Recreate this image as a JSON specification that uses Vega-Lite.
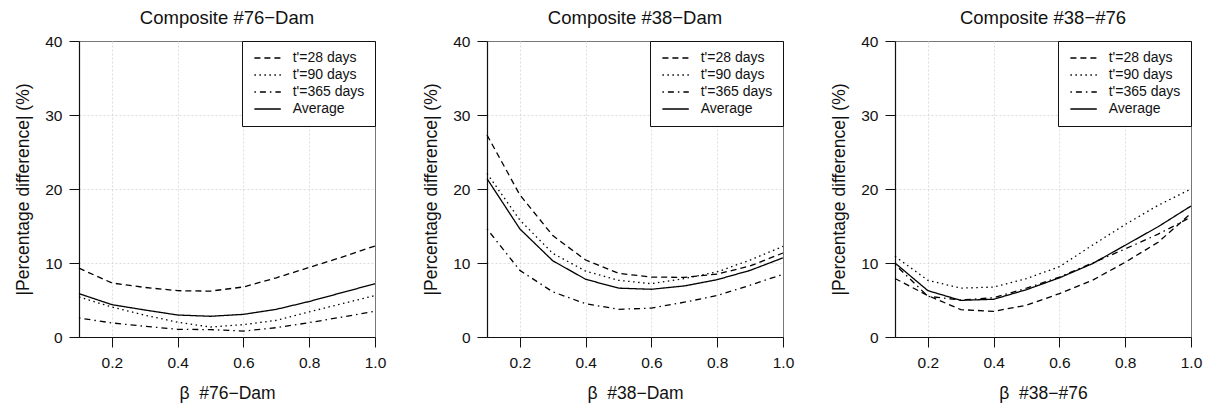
{
  "$schema": "https://vega.github.io/schema/vega-lite/v6.json",
  "padding": {"left": 14, "top": 8, "right": 5, "bottom": 5},
  "background": "white",
  "datasets": {
    "d": [
      {"panel": "76", "beta": 0.1, "series": "t'=28 days", "value": 9.3},
      {"panel": "76", "beta": 0.2, "series": "t'=28 days", "value": 7.3},
      {"panel": "76", "beta": 0.3, "series": "t'=28 days", "value": 6.7},
      {"panel": "76", "beta": 0.4, "series": "t'=28 days", "value": 6.26},
      {"panel": "76", "beta": 0.5, "series": "t'=28 days", "value": 6.2},
      {"panel": "76", "beta": 0.6, "series": "t'=28 days", "value": 6.76},
      {"panel": "76", "beta": 0.7, "series": "t'=28 days", "value": 8.0},
      {"panel": "76", "beta": 0.8, "series": "t'=28 days", "value": 9.4},
      {"panel": "76", "beta": 0.9, "series": "t'=28 days", "value": 10.8},
      {"panel": "76", "beta": 1.0, "series": "t'=28 days", "value": 12.3},
      {"panel": "76", "beta": 0.1, "series": "t'=90 days", "value": 5.4},
      {"panel": "76", "beta": 0.2, "series": "t'=90 days", "value": 4.05},
      {"panel": "76", "beta": 0.3, "series": "t'=90 days", "value": 2.95},
      {"panel": "76", "beta": 0.4, "series": "t'=90 days", "value": 2.0},
      {"panel": "76", "beta": 0.5, "series": "t'=90 days", "value": 1.35},
      {"panel": "76", "beta": 0.6, "series": "t'=90 days", "value": 1.67},
      {"panel": "76", "beta": 0.7, "series": "t'=90 days", "value": 2.25},
      {"panel": "76", "beta": 0.8, "series": "t'=90 days", "value": 3.4},
      {"panel": "76", "beta": 0.9, "series": "t'=90 days", "value": 4.5},
      {"panel": "76", "beta": 1.0, "series": "t'=90 days", "value": 5.6},
      {"panel": "76", "beta": 0.1, "series": "t'=365 days", "value": 2.57},
      {"panel": "76", "beta": 0.2, "series": "t'=365 days", "value": 1.9},
      {"panel": "76", "beta": 0.3, "series": "t'=365 days", "value": 1.45},
      {"panel": "76", "beta": 0.4, "series": "t'=365 days", "value": 1.04},
      {"panel": "76", "beta": 0.5, "series": "t'=365 days", "value": 1.0},
      {"panel": "76", "beta": 0.6, "series": "t'=365 days", "value": 0.8},
      {"panel": "76", "beta": 0.7, "series": "t'=365 days", "value": 1.26},
      {"panel": "76", "beta": 0.8, "series": "t'=365 days", "value": 1.94},
      {"panel": "76", "beta": 0.9, "series": "t'=365 days", "value": 2.7},
      {"panel": "76", "beta": 1.0, "series": "t'=365 days", "value": 3.47},
      {"panel": "76", "beta": 0.1, "series": "Average", "value": 5.86},
      {"panel": "76", "beta": 0.2, "series": "Average", "value": 4.37},
      {"panel": "76", "beta": 0.3, "series": "Average", "value": 3.65},
      {"panel": "76", "beta": 0.4, "series": "Average", "value": 2.97},
      {"panel": "76", "beta": 0.5, "series": "Average", "value": 2.8},
      {"panel": "76", "beta": 0.6, "series": "Average", "value": 3.06},
      {"panel": "76", "beta": 0.7, "series": "Average", "value": 3.74},
      {"panel": "76", "beta": 0.8, "series": "Average", "value": 4.8},
      {"panel": "76", "beta": 0.9, "series": "Average", "value": 6.0},
      {"panel": "76", "beta": 1.0, "series": "Average", "value": 7.2},

      {"panel": "38", "beta": 0.1, "series": "t'=28 days", "value": 27.3},
      {"panel": "38", "beta": 0.2, "series": "t'=28 days", "value": 19.2},
      {"panel": "38", "beta": 0.3, "series": "t'=28 days", "value": 13.7},
      {"panel": "38", "beta": 0.4, "series": "t'=28 days", "value": 10.4},
      {"panel": "38", "beta": 0.5, "series": "t'=28 days", "value": 8.6},
      {"panel": "38", "beta": 0.6, "series": "t'=28 days", "value": 8.1},
      {"panel": "38", "beta": 0.7, "series": "t'=28 days", "value": 8.06},
      {"panel": "38", "beta": 0.8, "series": "t'=28 days", "value": 8.5},
      {"panel": "38", "beta": 0.9, "series": "t'=28 days", "value": 9.6},
      {"panel": "38", "beta": 1.0, "series": "t'=28 days", "value": 11.35},
      {"panel": "38", "beta": 0.1, "series": "t'=90 days", "value": 22.1},
      {"panel": "38", "beta": 0.2, "series": "t'=90 days", "value": 15.8},
      {"panel": "38", "beta": 0.3, "series": "t'=90 days", "value": 11.3},
      {"panel": "38", "beta": 0.4, "series": "t'=90 days", "value": 8.9},
      {"panel": "38", "beta": 0.5, "series": "t'=90 days", "value": 7.66},
      {"panel": "38", "beta": 0.6, "series": "t'=90 days", "value": 7.2},
      {"panel": "38", "beta": 0.7, "series": "t'=90 days", "value": 7.9},
      {"panel": "38", "beta": 0.8, "series": "t'=90 days", "value": 8.8},
      {"panel": "38", "beta": 0.9, "series": "t'=90 days", "value": 10.4},
      {"panel": "38", "beta": 1.0, "series": "t'=90 days", "value": 12.25},
      {"panel": "38", "beta": 0.1, "series": "t'=365 days", "value": 14.6},
      {"panel": "38", "beta": 0.2, "series": "t'=365 days", "value": 9.0},
      {"panel": "38", "beta": 0.3, "series": "t'=365 days", "value": 6.1},
      {"panel": "38", "beta": 0.4, "series": "t'=365 days", "value": 4.5},
      {"panel": "38", "beta": 0.5, "series": "t'=365 days", "value": 3.74},
      {"panel": "38", "beta": 0.6, "series": "t'=365 days", "value": 3.9},
      {"panel": "38", "beta": 0.7, "series": "t'=365 days", "value": 4.7},
      {"panel": "38", "beta": 0.8, "series": "t'=365 days", "value": 5.6},
      {"panel": "38", "beta": 0.9, "series": "t'=365 days", "value": 7.0},
      {"panel": "38", "beta": 1.0, "series": "t'=365 days", "value": 8.47},
      {"panel": "38", "beta": 0.1, "series": "Average", "value": 21.4},
      {"panel": "38", "beta": 0.2, "series": "Average", "value": 14.6},
      {"panel": "38", "beta": 0.3, "series": "Average", "value": 10.3},
      {"panel": "38", "beta": 0.4, "series": "Average", "value": 7.8},
      {"panel": "38", "beta": 0.5, "series": "Average", "value": 6.6},
      {"panel": "38", "beta": 0.6, "series": "Average", "value": 6.45},
      {"panel": "38", "beta": 0.7, "series": "Average", "value": 6.9},
      {"panel": "38", "beta": 0.8, "series": "Average", "value": 7.75},
      {"panel": "38", "beta": 0.9, "series": "Average", "value": 9.0},
      {"panel": "38", "beta": 1.0, "series": "Average", "value": 10.7},

      {"panel": "3876", "beta": 0.1, "series": "t'=28 days", "value": 7.9},
      {"panel": "3876", "beta": 0.2, "series": "t'=28 days", "value": 5.6},
      {"panel": "3876", "beta": 0.3, "series": "t'=28 days", "value": 3.7},
      {"panel": "3876", "beta": 0.4, "series": "t'=28 days", "value": 3.47},
      {"panel": "3876", "beta": 0.5, "series": "t'=28 days", "value": 4.3},
      {"panel": "3876", "beta": 0.6, "series": "t'=28 days", "value": 5.86},
      {"panel": "3876", "beta": 0.7, "series": "t'=28 days", "value": 7.66},
      {"panel": "3876", "beta": 0.8, "series": "t'=28 days", "value": 10.1},
      {"panel": "3876", "beta": 0.9, "series": "t'=28 days", "value": 12.8},
      {"panel": "3876", "beta": 1.0, "series": "t'=28 days", "value": 16.7},
      {"panel": "3876", "beta": 0.1, "series": "t'=90 days", "value": 10.9},
      {"panel": "3876", "beta": 0.2, "series": "t'=90 days", "value": 7.66},
      {"panel": "3876", "beta": 0.3, "series": "t'=90 days", "value": 6.6},
      {"panel": "3876", "beta": 0.4, "series": "t'=90 days", "value": 6.75},
      {"panel": "3876", "beta": 0.5, "series": "t'=90 days", "value": 7.9},
      {"panel": "3876", "beta": 0.6, "series": "t'=90 days", "value": 9.5},
      {"panel": "3876", "beta": 0.7, "series": "t'=90 days", "value": 12.4},
      {"panel": "3876", "beta": 0.8, "series": "t'=90 days", "value": 15.2},
      {"panel": "3876", "beta": 0.9, "series": "t'=90 days", "value": 17.8},
      {"panel": "3876", "beta": 1.0, "series": "t'=90 days", "value": 20.0},
      {"panel": "3876", "beta": 0.1, "series": "t'=365 days", "value": 9.8},
      {"panel": "3876", "beta": 0.2, "series": "t'=365 days", "value": 5.5},
      {"panel": "3876", "beta": 0.3, "series": "t'=365 days", "value": 5.0},
      {"panel": "3876", "beta": 0.4, "series": "t'=365 days", "value": 5.3},
      {"panel": "3876", "beta": 0.5, "series": "t'=365 days", "value": 6.6},
      {"panel": "3876", "beta": 0.6, "series": "t'=365 days", "value": 8.1},
      {"panel": "3876", "beta": 0.7, "series": "t'=365 days", "value": 10.0},
      {"panel": "3876", "beta": 0.8, "series": "t'=365 days", "value": 11.9},
      {"panel": "3876", "beta": 0.9, "series": "t'=365 days", "value": 13.9},
      {"panel": "3876", "beta": 1.0, "series": "t'=365 days", "value": 16.2},
      {"panel": "3876", "beta": 0.1, "series": "Average", "value": 10.0},
      {"panel": "3876", "beta": 0.2, "series": "Average", "value": 6.26},
      {"panel": "3876", "beta": 0.3, "series": "Average", "value": 4.95},
      {"panel": "3876", "beta": 0.4, "series": "Average", "value": 5.1},
      {"panel": "3876", "beta": 0.5, "series": "Average", "value": 6.4},
      {"panel": "3876", "beta": 0.6, "series": "Average", "value": 8.0},
      {"panel": "3876", "beta": 0.7, "series": "Average", "value": 9.9},
      {"panel": "3876", "beta": 0.8, "series": "Average", "value": 12.4},
      {"panel": "3876", "beta": 0.9, "series": "Average", "value": 14.9},
      {"panel": "3876", "beta": 1.0, "series": "Average", "value": 17.7}
    ]
  },
  "hconcat": [
    {
      "data": {"name": "d"},
      "transform": [{"filter": "datum.panel === '76'"}],
      "title": "Composite #76−Dam",
      "width": 296, "height": 296,
      "mark": {"type": "line", "color": "black", "strokeWidth": 1.3},
      "encoding": {
        "x": {"field": "beta", "type": "quantitative", "title": "β\u00a0\u00a0#76−Dam",
              "scale": {"domain": [0.1, 1.0], "nice": false, "zero": false},
              "axis": {"values": [0.2, 0.4, 0.6, 0.8, 1.0], "format": ".1f"}},
        "y": {"field": "value", "type": "quantitative", "title": "|Percentage difference| (%)",
              "scale": {"domain": [0, 40], "nice": false},
              "axis": {"values": [0, 10, 20, 30, 40]}},
        "strokeDash": {"field": "series", "type": "nominal",
              "scale": {"domain": ["t'=28 days", "t'=90 days", "t'=365 days", "Average"],
                        "range": [[6, 4], [1.5, 3.5], [1.5, 4, 6, 4], [1, 0]]},
              "legend": {"title": null}}
      }
    },
    {
      "data": {"name": "d"},
      "transform": [{"filter": "datum.panel === '38'"}],
      "title": "Composite #38−Dam",
      "width": 296, "height": 296,
      "mark": {"type": "line", "color": "black", "strokeWidth": 1.3},
      "encoding": {
        "x": {"field": "beta", "type": "quantitative", "title": "β\u00a0\u00a0#38−Dam",
              "scale": {"domain": [0.1, 1.0], "nice": false, "zero": false},
              "axis": {"values": [0.2, 0.4, 0.6, 0.8, 1.0], "format": ".1f"}},
        "y": {"field": "value", "type": "quantitative", "title": "|Percentage difference| (%)",
              "scale": {"domain": [0, 40], "nice": false},
              "axis": {"values": [0, 10, 20, 30, 40]}},
        "strokeDash": {"field": "series", "type": "nominal",
              "scale": {"domain": ["t'=28 days", "t'=90 days", "t'=365 days", "Average"],
                        "range": [[6, 4], [1.5, 3.5], [1.5, 4, 6, 4], [1, 0]]},
              "legend": {"title": null}}
      }
    },
    {
      "data": {"name": "d"},
      "transform": [{"filter": "datum.panel === '3876'"}],
      "title": "Composite #38−#76",
      "width": 296, "height": 296,
      "mark": {"type": "line", "color": "black", "strokeWidth": 1.3},
      "encoding": {
        "x": {"field": "beta", "type": "quantitative", "title": "β\u00a0\u00a0#38−#76",
              "scale": {"domain": [0.1, 1.0], "nice": false, "zero": false},
              "axis": {"values": [0.2, 0.4, 0.6, 0.8, 1.0], "format": ".1f"}},
        "y": {"field": "value", "type": "quantitative", "title": "|Percentage difference| (%)",
              "scale": {"domain": [0, 40], "nice": false},
              "axis": {"values": [0, 10, 20, 30, 40]}},
        "strokeDash": {"field": "series", "type": "nominal",
              "scale": {"domain": ["t'=28 days", "t'=90 days", "t'=365 days", "Average"],
                        "range": [[6, 4], [1.5, 3.5], [1.5, 4, 6, 4], [1, 0]]},
              "legend": {"title": null}}
      }
    }
  ],
  "spacing": 112,
  "bounds": "flush",
  "resolve": {"scale": {"strokeDash": "independent", "x": "independent", "y": "independent"},
              "legend": {"strokeDash": "independent"}},
  "config": {
    "font": "Liberation Sans",
    "view": {"stroke": "#777", "strokeWidth": 1},
    "title": {"fontSize": 18.5, "fontWeight": "normal", "color": "#111", "anchor": "middle", "offset": 7},
    "axis": {
      "domainColor": "#111", "domainWidth": 1.2, "tickColor": "#111", "tickWidth": 1, "tickSize": 10,
      "labelColor": "#111", "labelFontSize": 15.5, "labelFlush": false,
      "titleColor": "#111", "titleFontSize": 17.5, "titleFontWeight": "normal",
      "gridColor": "#dcdcdc", "gridDash": [2, 2], "gridWidth": 1
    },
    "axisX": {"labelPadding": 8, "titlePadding": 14,
              "gridOpacity": {"condition": {"test": "datum.value >= 0.99", "value": 0}, "value": 1}},
    "axisY": {"labelPadding": 7, "titlePadding": 12,
              "gridOpacity": {"condition": {"test": "datum.value >= 39", "value": 0}, "value": 1}},
    "legend": {
      "orient": "top-right", "offset": 0, "strokeColor": "#111", "fillColor": "white",
      "padding": 10, "labelFontSize": 14, "labelColor": "#111", "labelOffset": 18.1,
      "symbolType": "M-2.2,0L2.2,0", "symbolSize": 144, "symbolStrokeWidth": 1.3, "symbolStrokeColor": "black",
      "rowPadding": 3, "symbolOffset": 8.6
    }
  }
}
